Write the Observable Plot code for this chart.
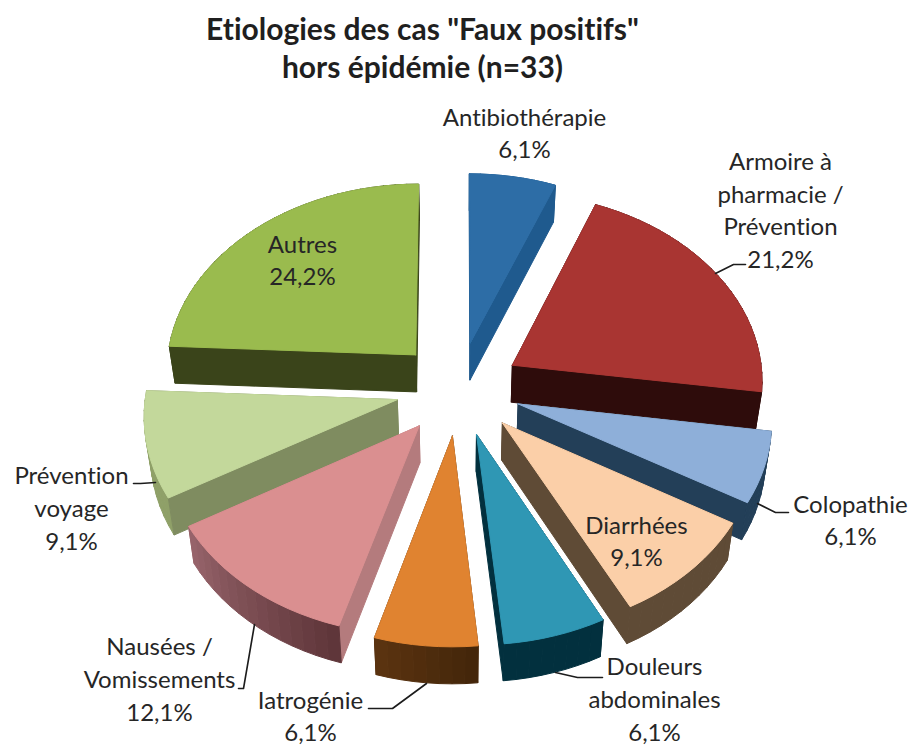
<!DOCTYPE html>
<html lang="fr">
<head>
<meta charset="utf-8">
<style>
html,body{margin:0;padding:0;background:#fff;overflow:hidden;width:910px;height:745px;font-variant-ligatures:none;font-feature-settings:"liga" 0,"clig" 0,"dlig" 0,"calt" 0}
#title{position:relative;height:90px;width:845px;text-align:center;font:bold 30px/38px Lato,sans-serif;color:#1f1f1f;box-sizing:border-box;padding-top:9px;letter-spacing:.01px;font-feature-settings:"liga" 0,"clig" 0,"dlig" 0,"calt" 0}
svg{display:block;letter-spacing:.01px}
</style>
<script src="https://cdn.jsdelivr.net/npm/d3@7"></script>
<script src="https://cdn.jsdelivr.net/npm/@observablehq/plot@0.6"></script>
</head>
<body>
<div id="title">Etiologies des cas "Faux positifs"<br>hors épidémie (n=33)</div>
<div id="chart"></div>
<script>
// Data
const categories = ["Antibiothérapie","Armoire à\npharmacie /\nPrévention","Colopathie","Diarrhées","Douleurs\nabdominales","Iatrogénie","Nausées /\nVomissements","Prévention\nvoyage","Autres"];
const percents = [6.1,21.2,6.1,9.1,6.1,6.1,12.1,9.1,24.2];
const counts = [2,7,2,3,2,2,4,3,8];

// Styles
const topColors  = ["#2d6da6","#a93532","#8eafd9","#fbcfa8","#2f97b4","#e08330","#da8f90","#c3d89b","#9abb4e"];
const edgeColors = ["#1f5a8e","#2e0c0b","#233f58","#5f4b36","#02303e","#4f2c0c","#b47b7d","#7f8c60","#3a441a"];
const arcFrom    = ["#1f5a8e","#2e0c0b","#233f58","#5f4b36","#02303e","#44260a","#5f363a","#8fa068","#3a441a"];
const arcTo      = ["#1f5a8e","#2e0c0b","#233f58","#5f4b36","#02303e","#5a3310","#96636a","#8fa068","#3a441a"];

// Layout
const titleH = 90, W = 910, H = 745 - titleH;
const cx = 458, cy = 388, a = 251, b = 188, k = 0.073, depth = 37, explode = 0.25, lean = 0.98;
const labelX = [524,780,850,636,654,310,159,71,302];
const labelY = [131,208,518,539,697,714,677,506,258];
const leaders = [
  [[715,273],[733,264],[745,264]],
  [[757,503],[775,512],[788,512]],
  [[555,672],[577,677],[602,677]],
  [[426,683],[392,708],[368,708]],
  [[254,624],[243,688],[238,688]],
  [[155,482],[140,483],[133,483]]
];

// Geometry derived from the values
const total = d3.sum(counts);
let cum = 0;
const slices = counts.map((c,i)=>{
  const start = cum/total*2*Math.PI; cum += c;
  const end = cum/total*2*Math.PI;
  return {i,start,end,mid:(start+end)/2};
});
function proj(s, theta, r, bottom){
  const X = r*Math.sin(theta)+explode*Math.sin(s.mid);
  const Y = r*Math.cos(theta)+explode*Math.cos(s.mid);
  const f = 1/(1+k*Y);
  let u = a*X*f, v = -b*Y*f;
  if(bottom){u*=lean; v+=depth;}
  return [cx+u, cy+v];
}
const arcAngles = s=>{
  const n = Math.max(2,Math.ceil((s.end-s.start)/(3*Math.PI/180)));
  return d3.range(n+1).map(j=>s.start+(s.end-s.start)*j/n);
};
function meanY(s,list){return d3.mean(list,t=>t[1]*Math.cos(t[0])+explode*Math.cos(s.mid));}

const rows = [];
let id = 0;
function poly(points,color){
  const z = id++;
  for(const p of [...points,points[0]]) rows.push({x:p[0],y:p[1]-titleH,z,color});
}
// slices back to front
const order = slices.slice().sort((p,q)=>Math.cos(q.mid)-Math.cos(p.mid));
for(const s of order){
  const angs = arcAngles(s);
  const walls = [];
  walls.push({d:meanY(s,[[s.start,0],[s.start,1]]),draw(){poly([proj(s,s.start,0,false),proj(s,s.start,1,false),proj(s,s.start,1,true),proj(s,s.start,0,true)],edgeColors[s.i]);}});
  walls.push({d:meanY(s,[[s.end,0],[s.end,1]]),draw(){poly([proj(s,s.end,0,false),proj(s,s.end,1,false),proj(s,s.end,1,true),proj(s,s.end,0,true)],edgeColors[s.i]);}});
  walls.push({d:meanY(s,angs.map(t=>[t,1])),draw(){
    const c = d3.interpolateRgb(arcFrom[s.i],arcTo[s.i]);
    for(let j=0;j<angs.length-1;j++){
      poly([proj(s,angs[j],1,false),proj(s,angs[j+1],1,false),proj(s,angs[j+1],1,true),proj(s,angs[j],1,true)],d3.color(c(j/(angs.length-2))).formatHex());
    }
  }});
  walls.sort((p,q)=>q.d-p.d).forEach(w=>w.draw());
  poly([proj(s,0,0,false),...angs.map(t=>proj(s,t,1,false))],topColors[s.i]);
}

const labels = categories.map((c,i)=>({
  x:labelX[i], y:labelY[i]-titleH,
  text:`${c}\n${percents[i].toFixed(1).replace(".",",")}%`
}));
const leaderRows = leaders.flatMap((l,z)=>l.map(p=>({x:p[0],y:p[1]-titleH,z})));

const plot = Plot.plot({
  width:W, height:H, margin:0,
  style:{background:"#fff",overflow:"visible"},
  x:{type:"identity",axis:null},
  y:{type:"identity",axis:null},
  color:{type:"identity"},
  marks:[
    Plot.line(rows,{x:"x",y:"y",z:"z",fill:"color",stroke:"color",strokeWidth:1,strokeLinejoin:"round"}),
    Plot.line(leaderRows,{x:"x",y:"y",z:"z",stroke:"#1c1c1c",strokeWidth:1.6,curve:"linear"}),
    Plot.text(labels,{x:"x",y:"y",text:"text",fontSize:24,lineHeight:1.37,fill:"#262626",fontFamily:"Lato, sans-serif",textAnchor:"middle",lineAnchor:"middle"})
  ]
});
document.getElementById("chart").appendChild(plot);
</script>
</body>
</html>
